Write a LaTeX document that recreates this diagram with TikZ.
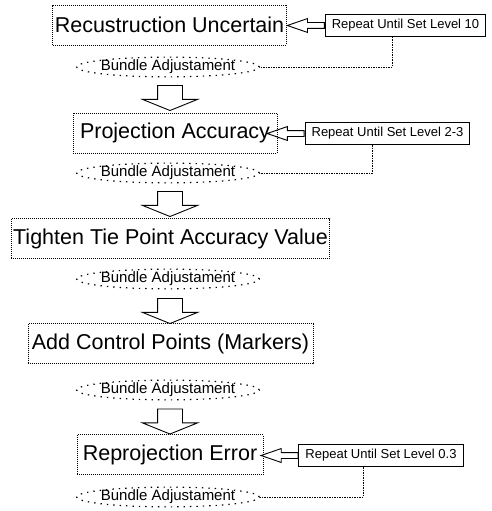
\documentclass[tikz,border=0pt]{standalone}
\usepackage{fontspec}
\setmainfont{Liberation Sans}
\usetikzlibrary{shapes.geometric, shapes.arrows}

\begin{document}
\begin{tikzpicture}[x=1pt, y=-1pt,
    stepbox/.style={draw, dash pattern=on 1pt off 1pt, line width=0.8pt, minimum height=40pt, inner xsep=2pt, font=\fontsize{21.5}{24}\selectfont},
    bundle/.style={ellipse, draw, dash pattern=on 1.4pt off 5pt, line width=1.2pt, inner xsep=-2.5pt, inner ysep=0pt, font=\fontsize{15}{18}\selectfont},
    repeatbox/.style={draw, line width=1pt, minimum height=22pt, inner xsep=6.5pt, font=\fontsize{13}{15}\selectfont},
    flowarrow/.style={single arrow, draw, line width=0.9pt, rotate=-90, minimum height=25pt, inner xsep=0pt, inner ysep=12pt, single arrow head extend=15pt, single arrow tip angle=136},
    backarrow/.style={single arrow, draw, line width=0.9pt, rotate=180, minimum height=37pt, inner xsep=0pt, inner ysep=2.5pt, single arrow head extend=4pt, single arrow tip angle=38},
    feedback/.style={draw, dash pattern=on 1.5pt off 1pt, line width=0.8pt}]
    \useasboundingbox (0,0) rectangle (492,511);

    % Steps
    \node[stepbox] (S-1) at (169.5,25) {Recustruction Uncertain};
    \node[stepbox, minimum width=204pt] (S-2) at (175,133) {Projection Accuracy};
    \node[stepbox] (S-3) at (170.5,238.5) {Tighten Tie Point Accuracy Value};
    \node[stepbox, minimum width=285pt] (S-4) at (170.5,343.5) {Add Control Points (Markers)};
    \node[stepbox, minimum width=186pt] (S-5) at (170,454.5) {Reprojection Error};

    % Bundle adjustment after every step
    \node[bundle] (BA-1) at (168,67) {Bundle Adjustament};
    \node[bundle] (BA-2) at (168,173) {Bundle Adjustament};
    \node[bundle] (BA-3) at (168,279) {Bundle Adjustament};
    \node[bundle] (BA-4) at (168,390) {Bundle Adjustament};
    \node[bundle] (BA-5) at (168,497) {Bundle Adjustament};

    % Hollow arrows down to the next step
    \node[flowarrow] (A-1) at (170,95.5) {};
    \node[flowarrow] (A-2) at (170,201.5) {};
    \node[flowarrow] (A-3) at (170,308.5) {};
    \node[flowarrow] (A-4) at (170,419) {};

    % Repeat loops
    \node[repeatbox] (R-1) at (405.5,25.5) {Repeat Until Set Level 10};
    \node[repeatbox] (R-2) at (387.5,133.5) {Repeat Until Set Level 2-3};
    \node[repeatbox] (R-5) at (381,455.5) {Repeat Until Set Level 0.3};

    \node[backarrow, anchor=tail] (B-1) at (R-1.west) {};
    \node[backarrow, anchor=tail] (B-2) at (R-2.west) {};
    \node[backarrow, anchor=tail] (B-5) at (R-5.west) {};

    \draw[feedback] ([xshift=-13.5pt]R-1.south) |- (BA-1.east);
    \draw[feedback] ([xshift=-15.5pt]R-2.south) |- (BA-2.east);
    \draw[feedback] ([xshift=-18pt]R-5.south) |- (BA-5.east);
\end{tikzpicture}
\end{document}
